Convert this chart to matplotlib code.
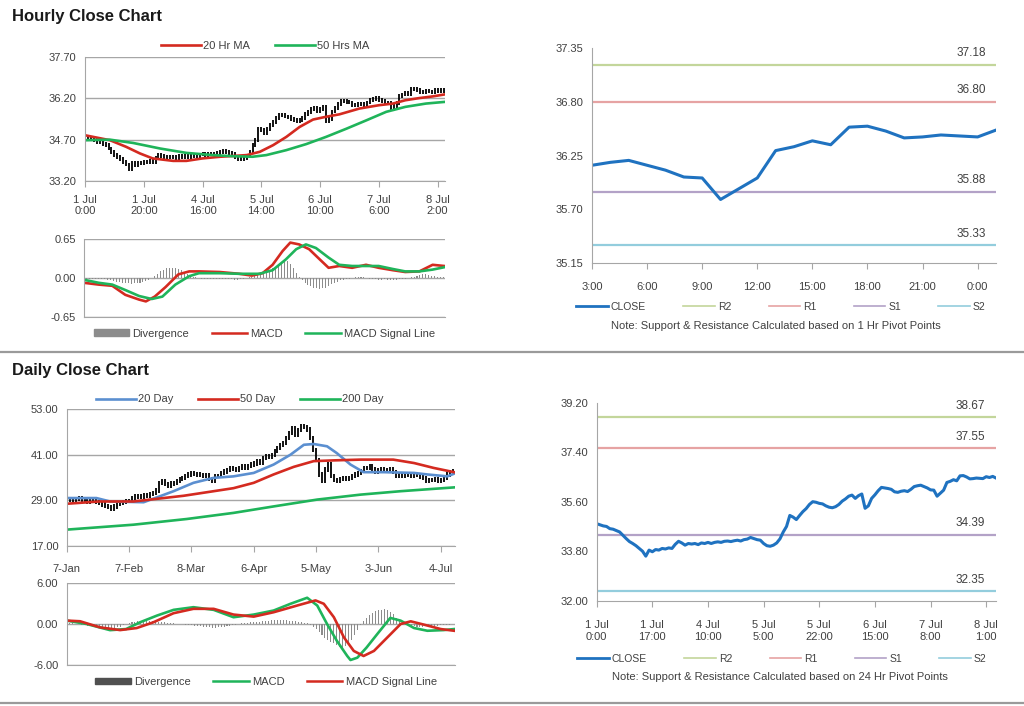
import numpy as np
import matplotlib
matplotlib.use('Agg')
import matplotlib.pyplot as plt
from matplotlib.lines import Line2D
from matplotlib.patches import Patch

plt.rcParams['font.family'] = ['Liberation Sans', 'DejaVu Sans']

# ---- hourly data (trading hours from 1 Jul 0:00) ----
hourly_close = [
    34.80, 34.76, 34.72, 34.70, 34.62, 34.60, 34.55, 34.50, 34.38, 34.26,
    34.15, 34.08, 34.00, 33.90, 33.80, 33.62, 33.84, 33.78, 33.86, 33.84,
    33.90, 33.88, 33.92, 33.90, 34.05, 34.16, 34.10, 34.02, 34.08, 34.06,
    34.08, 34.04, 34.10, 34.08, 34.12, 34.08, 34.12, 34.14, 34.12, 34.16,
    34.17, 34.15, 34.18, 34.20, 34.17, 34.22, 34.24, 34.30, 34.26, 34.22,
    34.20, 34.08, 34.00, 33.98, 34.02, 34.10, 34.25, 34.50, 34.70, 35.10,
    35.04, 34.95, 35.10, 35.24, 35.35, 35.50, 35.60, 35.58, 35.54, 35.52,
    35.45, 35.40, 35.38, 35.42, 35.50, 35.62, 35.70, 35.80, 35.84, 35.72,
    35.82, 35.88, 35.36, 35.45, 35.72, 35.85, 36.00, 36.12, 36.10, 36.08,
    36.05, 35.96, 35.94, 35.98, 36.00, 35.97, 36.05, 36.15, 36.18, 36.20,
    36.15, 36.10, 36.03, 36.02, 35.80, 35.91, 36.02, 36.30, 36.34, 36.40,
    36.36, 36.54, 36.55, 36.50, 36.43, 36.44, 36.46, 36.45, 36.44, 36.51,
    36.48, 36.52, 36.46,
]
hourly_ticks = [0, 20, 40, 60, 80, 100, 120]
hourly_tick_labels = ['1 Jul\n0:00', '1 Jul\n20:00', '4 Jul\n16:00', '5 Jul\n14:00',
                      '6 Jul\n10:00', '7 Jul\n6:00', '8 Jul\n2:00']

ma20h_idx = [0, 8.5, 14, 18.7, 23, 30, 34.5, 40, 46, 55, 59.5, 64, 68.5, 73, 77.6,
             82, 86.6, 93.4, 100, 104.8, 109, 113.8, 118.3, 122.3]
ma20h_val = [34.86, 34.68, 34.44, 34.20, 34.02, 33.93, 33.93, 34.02, 34.08, 34.14, 34.26,
             34.50, 34.80, 35.16, 35.43, 35.53, 35.62, 35.83, 35.95, 36.01, 36.13, 36.21,
             36.27, 36.34]
ma50h_idx = [0, 8.5, 16.4, 25.5, 34.5, 43.6, 50.4, 57, 61.7, 68.5, 75.3, 82, 89, 95.7,
             102.5, 109, 116, 122.3]
ma50h_val = [34.68, 34.70, 34.58, 34.38, 34.22, 34.14, 34.10, 34.08, 34.14, 34.32, 34.54,
             34.80, 35.10, 35.40, 35.71, 35.89, 36.01, 36.07]

macdh_idx = [0, 5, 9.6, 14, 18.7, 21, 24, 27.7, 32, 35.7, 39, 46, 52.7, 57, 60.6, 64,
             67.4, 70, 73, 76.4, 80, 83, 86.6, 91, 95.7, 100, 104.8, 109, 113.8, 118.3, 122.3]
macdh_val = [-0.08, -0.11, -0.13, -0.28, -0.36, -0.39, -0.31, -0.15, 0.06, 0.11, 0.11,
             0.10, 0.07, 0.04, 0.08, 0.22, 0.45, 0.59, 0.56, 0.48, 0.31, 0.17, 0.20, 0.17,
             0.22, 0.17, 0.13, 0.10, 0.11, 0.22, 0.20]
sigh_idx = [0, 5, 9.6, 14, 18.7, 23, 26.6, 31, 35.7, 39, 46, 52.7, 59.5, 64, 68.5, 72,
            75.3, 78.7, 83, 86.6, 91, 95.7, 100, 104.8, 109, 113.8, 118.3, 122.3]
sigh_val = [-0.03, -0.08, -0.11, -0.20, -0.30, -0.35, -0.31, -0.11, 0.03, 0.08, 0.08,
            0.07, 0.07, 0.13, 0.31, 0.48, 0.56, 0.50, 0.34, 0.22, 0.20, 0.20, 0.20, 0.15,
            0.11, 0.11, 0.14, 0.18]
divh = [
    -0.03, -0.02, -0.02, -0.01, -0.02, -0.02, -0.01, -0.02, -0.03, -0.04,
    -0.05, -0.06, -0.07, -0.08, -0.09, -0.09, -0.10, -0.09, -0.09, -0.08,
    -0.07, -0.05, -0.03, 0.00, 0.03, 0.07, 0.11, 0.14, 0.16, 0.17,
    0.17, 0.16, 0.15, 0.13, 0.10, 0.07, 0.04, 0.02, 0.01, 0.00,
    -0.01, -0.02, -0.02, -0.02, -0.01, -0.02, -0.02, -0.01, -0.01, -0.02,
    -0.02, -0.03, -0.03, -0.02, -0.01, 0.00, 0.01, 0.02, 0.03, 0.05,
    0.07, 0.09, 0.11, 0.13, 0.16, 0.19, 0.22, 0.25, 0.27, 0.28,
    0.24, 0.17, 0.09, 0.02, -0.04, -0.08, -0.11, -0.14, -0.16, -0.17,
    -0.18, -0.17, -0.16, -0.13, -0.10, -0.08, -0.06, -0.04, -0.03, -0.02,
    -0.01, 0.00, 0.01, 0.01, 0.02, 0.01, 0.00, -0.01, -0.02, -0.02,
    -0.03, -0.03, -0.02, -0.03, -0.04, -0.03, -0.03, -0.02, -0.02, -0.01,
    0.00, 0.01, 0.02, 0.03, 0.05, 0.06, 0.06, 0.05, 0.04, 0.03,
    0.02, 0.02, 0.01,
]

# pivot levels
level_names = ['R2', 'R1', 'S1', 'S2']
level_colors = ['#c3d69b', '#e6a3a3', '#b3a2c7', '#93cddd']
levels_1h = [37.18, 36.80, 35.88, 35.33]
levels_24h = [38.67, 37.55, 34.39, 32.35]
last_day_start = 97
last_day_labels = ['3:00', '6:00', '9:00', '12:00', '15:00', '18:00', '21:00', '0:00']
week_ticks = [0, 17, 34, 51, 68, 85, 102, 119]
week_labels = ['1 Jul\n0:00', '1 Jul\n17:00', '4 Jul\n10:00', '5 Jul\n5:00',
               '5 Jul\n22:00', '6 Jul\n15:00', '7 Jul\n8:00', '8 Jul\n1:00']

# ---- daily data (weekdays from 7 Jan) ----
daily_close = [
    29.2, 29.0, 28.8, 29.3, 29.5, 29.1, 28.9, 28.7, 29.0, 28.8,
    28.5, 28.2, 27.9, 27.6, 27.2, 26.8, 27.4, 28.1, 28.3, 28.6,
    28.8, 28.9, 29.6, 30.1, 29.9, 30.0, 30.3, 30.2, 30.6, 30.9,
    31.6, 33.6, 34.0, 33.2, 32.9, 33.4, 33.6, 34.1, 34.6, 34.9,
    35.4, 35.8, 36.2, 36.0, 35.8, 35.6, 35.3, 35.6, 34.5, 34.0,
    35.3, 35.5, 36.1, 36.6, 37.0, 37.5, 37.3, 37.1, 37.4, 37.9,
    37.6, 38.0, 38.4, 38.7, 39.2, 38.9, 40.1, 40.7, 40.3, 41.0,
    42.0, 42.7, 43.5, 44.1, 45.4, 46.8, 48.0, 46.3, 47.5, 48.6,
    48.3, 47.6, 45.4, 42.3, 39.6, 35.8, 34.0, 37.1, 38.4, 35.3,
    34.4, 34.0, 34.6, 34.9, 34.5, 34.9, 35.3, 35.8, 36.2, 36.8,
    37.5, 37.4, 37.9, 37.2, 36.6, 36.9, 37.1, 36.8, 37.0, 37.1,
    36.4, 35.3, 35.6, 35.5, 35.8, 35.6, 35.5, 35.8, 35.6, 35.2,
    34.9, 34.0, 34.3, 34.4, 34.6, 34.2, 34.4, 34.9, 35.8, 36.3,
    36.6,
]
daily_ticks = [0, 21, 42, 63, 84, 105, 126]
daily_tick_labels = ['7-Jan', '7-Feb', '8-Mar', '6-Apr', '5-May', '3-Jun', '4-Jul']

ma20d_idx = [0, 10, 14.6, 25.9, 31.5, 36, 42.7, 49.5, 56.2, 63, 69.7, 75.4, 79.9, 83.2,
             87.7, 91, 95.6, 100, 106.9, 117, 121.5, 128.2, 130.5]
ma20d_val = [29.6, 29.6, 28.7, 28.5, 30.1, 31.4, 33.6, 34.9, 35.3, 36.2, 38.4, 41.0, 43.6,
             43.8, 43.2, 41.4, 38.4, 36.4, 36.4, 36.2, 35.8, 35.3, 36.0]
ma50d_idx = [0, 11, 22.5, 30.4, 39.4, 49.5, 56.2, 63, 69.7, 76.5, 83.2, 90, 99, 110, 117,
             123.7, 130.5]
ma50d_val = [28.1, 28.7, 28.7, 29.4, 30.2, 31.4, 32.2, 33.6, 35.8, 37.8, 39.3, 39.5, 39.7,
             39.7, 38.8, 37.5, 36.4]
ma200d_idx = [0, 22.5, 40.5, 56.2, 69.7, 84.4, 99, 112.5, 130.5]
ma200d_val = [21.3, 22.6, 24.1, 25.7, 27.4, 29.2, 30.5, 31.4, 32.4]

macdd_idx = [0, 6.7, 14.6, 20, 24.7, 30.4, 36, 42.7, 49.5, 56.2, 63, 69.7, 75.4, 81,
             84.4, 87.7, 91, 94.5, 95.6, 97.9, 101, 104.6, 109, 112.5, 117, 121.5, 127, 130.5]
macdd_val = [0.5, 0.0, -0.9, -0.74, 0.25, 1.23, 2.07, 2.46, 2.07, 0.99, 1.38, 1.97, 2.96,
             3.84, 2.7, 0.0, -2.46, -4.68, -5.27, -4.93, -3.45, -1.48, 0.89, 0.49, -0.59,
             -0.99, -0.89, -0.74]
sigd_idx = [0, 4.5, 11.2, 18, 23.6, 29.2, 36, 42.7, 49.5, 56.2, 63, 69.7, 77.6, 83.8,
            86.6, 90, 93.4, 96.7, 100, 103.5, 108, 112.5, 115.9, 120.4, 126, 130.5]
sigd_val = [0.5, 0.4, -0.49, -0.89, -0.59, 0.25, 1.58, 2.22, 2.22, 1.38, 1.08, 1.72, 2.7,
            3.45, 2.96, 0.99, -1.97, -3.94, -4.68, -3.94, -1.97, 0.0, 0.39, -0.1, -0.74, -0.99]
divd = [
    0.1, 0.1, 0.1, 0.05, 0.0, -0.1, -0.2, -0.25, -0.3, -0.3,
    -0.35, -0.4, -0.45, -0.5, -0.55, -0.6, -0.6, -0.5, -0.4, -0.2,
    -0.05, 0.1, 0.25, 0.35, 0.45, 0.5, 0.55, 0.55, 0.5, 0.45,
    0.4, 0.35, 0.3, 0.25, 0.2, 0.15, 0.1, 0.05, 0.0, -0.05,
    -0.1, -0.15, -0.2, -0.25, -0.3, -0.35, -0.4, -0.45, -0.5, -0.55,
    -0.55, -0.5, -0.45, -0.4, -0.35, -0.3, -0.2, -0.1, 0.0, 0.1,
    0.15, 0.2, 0.25, 0.3, 0.3, 0.35, 0.4, 0.45, 0.5, 0.55,
    0.55, 0.6, 0.6, 0.55, 0.55, 0.5, 0.45, 0.4, 0.35, 0.3,
    0.2, 0.1, -0.2, -0.5, -0.8, -1.2, -1.6, -2.0, -2.3, -2.6,
    -2.8, -3.0, -3.3, -3.5, -3.2, -2.9, -2.3, -1.6, -0.9, -0.2,
    0.4, 0.9, 1.3, 1.6, 1.9, 2.0, 2.1, 2.2, 2.1, 1.8,
    1.4, 0.9, 0.5, 0.1, -0.1, -0.2, -0.3, -0.35, -0.4, -0.4,
    -0.4, -0.35, -0.35, -0.3, -0.3, -0.25, -0.2, -0.2, -0.15, -0.1,
    0.05,
]

RED = '#d42a20'
GREEN = '#1fb45a'
GRID = '#a6a6a6'
TXT = '#404040'


def px(l, t, r, b):
    W, H = 1024, 706
    return [l / W, 1 - b / H, (r - l) / W, (b - t) / H]


def style(ax, grid=True):
    for s in ['top', 'right']:
        ax.spines[s].set_visible(False)
    ax.spines['left'].set_color(GRID)
    ax.spines['bottom'].set_color(GRID)
    ax.tick_params(axis='y', length=0, labelsize=8, colors=TXT, pad=6)
    ax.tick_params(axis='x', length=4, color=GRID, labelsize=8, labelcolor=TXT, pad=6)
    if grid:
        ax.yaxis.grid(True, color=GRID, lw=1)
    ax.set_axisbelow(True)


def bars(ax, close, wick):
    # bar from previous close to this close, with a short wick each side
    c = np.array(close)
    prev = np.r_[c[0], c[:-1]]
    idx = np.arange(len(c))
    ax.vlines(idx, np.minimum(prev, c) - wick, np.maximum(prev, c) + wick,
              color='black', lw=1.3)


fig = plt.figure(figsize=(10.24, 7.06), dpi=100)

fig.text(12 / 1024, 1 - 16 / 706, 'Hourly Close Chart', fontsize=12, fontweight='bold',
         va='center', color='#1a1a1a')
fig.text(12 / 1024, 1 - 370 / 706, 'Daily Close Chart', fontsize=12, fontweight='bold',
         va='center', color='#1a1a1a')
fig.add_artist(Line2D([0, 1], [1 - 352 / 706] * 2, color='#9a9a9a', lw=1.6))
fig.add_artist(Line2D([0, 1], [1 - 703 / 706] * 2, color='#9a9a9a', lw=1.6))

# ---- hourly price ----
ax = fig.add_axes(px(85, 57, 445, 181))
style(ax)
bars(ax, hourly_close, 0.07)
ax.plot(ma20h_idx, ma20h_val, color=RED, lw=1.9, label='20 Hr MA')
ax.plot(ma50h_idx, ma50h_val, color=GREEN, lw=1.9, label='50 Hrs MA')
ax.set_ylim(33.2, 37.7)
ax.set_yticks([33.2, 34.7, 36.2, 37.7])
ax.set_yticklabels(['%.2f' % v for v in [33.2, 34.7, 36.2, 37.7]])
ax.set_xlim(0, 122.5)
ax.set_xticks(hourly_ticks)
ax.set_xticklabels(hourly_tick_labels)
ax.legend(loc='lower center', bbox_to_anchor=(0.5, 0.97), ncol=2, frameon=False,
          fontsize=8, handlelength=3.6, columnspacing=2.2, handletextpad=0.2,
          labelcolor=TXT)

# ---- hourly MACD ----
ax = fig.add_axes(px(84, 239, 445, 317))
style(ax)
ax.bar(np.arange(len(divh)), divh, width=0.35, color='#8c8c8c')
ax.plot(macdh_idx, macdh_val, color=RED, lw=1.9)
ax.plot(sigh_idx, sigh_val, color=GREEN, lw=1.9)
ax.set_ylim(-0.65, 0.65)
ax.set_yticks([-0.65, 0, 0.65])
ax.set_yticklabels(['-0.65', '0.00', '0.65'])
ax.set_xlim(0, 122.5)
ax.set_xticks([])
h = [Patch(color='#8c8c8c'), Line2D([], [], color=RED, lw=1.8),
     Line2D([], [], color=GREEN, lw=1.8)]
ax.legend(h, ['Divergence', 'MACD', 'MACD Signal Line'], loc='upper center',
          bbox_to_anchor=(0.5, -0.02), ncol=3, frameon=False, fontsize=8,
          handlelength=3.2, handleheight=0.5, columnspacing=2.0, handletextpad=0.3,
          labelcolor=TXT)

# ---- 1 hr pivot chart ----
ax = fig.add_axes(px(592, 48, 996, 263))
style(ax, grid=False)
day = hourly_close[last_day_start:last_day_start + 23]
for name, lv, col in zip(level_names, levels_1h, level_colors):
    ax.axhline(lv, color=col, lw=1.6)
    ax.annotate('%.2f' % lv, xy=(0.975, lv), xycoords=ax.get_yaxis_transform(),
                xytext=(0, 4), textcoords='offset points', ha='right', va='bottom',
                fontsize=8.5, color=TXT)
ax.plot(np.arange(len(day)), day, color='#1f72c0', lw=2.2)
ax.set_ylim(35.15, 37.35)
ax.set_yticks([35.15, 35.70, 36.25, 36.80, 37.35])
ax.set_yticklabels(['35.15', '35.70', '36.25', '36.80', '37.35'])
ax.set_xlim(0, 22)
ax.set_xticks(np.arange(0, 22, 3))
ax.set_xticklabels(last_day_labels)
ax.tick_params(axis='x', pad=10)
h = [Line2D([], [], color='#1f72c0', lw=2)] + [Line2D([], [], color=c, lw=1.2) for c in level_colors]
fig.legend(h, ['CLOSE'] + level_names, loc='center', bbox_to_anchor=(781 / 1024, 1 - 307 / 706),
           ncol=5, frameon=False, fontsize=7.5, handlelength=3.0, columnspacing=3.6,
           handletextpad=0.3, labelcolor=TXT)
fig.text(776 / 1024, 1 - 326 / 706,
         'Note: Support & Resistance Calculated based on 1 Hr Pivot Points',
         fontsize=8, ha='center', va='center', color=TXT)

# ---- daily price ----
ax = fig.add_axes(px(66.7, 409, 455, 546))
style(ax)
bars(ax, daily_close, 0.55)
ax.plot(ma20d_idx, ma20d_val, color='#5b8fd0', lw=1.9, label='20 Day')
ax.plot(ma50d_idx, ma50d_val, color=RED, lw=1.9, label='50 Day')
ax.plot(ma200d_idx, ma200d_val, color=GREEN, lw=1.9, label='200 Day')
ax.set_ylim(17, 53)
ax.set_yticks([17, 29, 41, 53])
ax.set_yticklabels(['17.00', '29.00', '41.00', '53.00'])
ax.set_xlim(0, 130.8)
ax.set_xticks(daily_ticks)
ax.set_xticklabels(daily_tick_labels)
ax.tick_params(axis='x', pad=9)
ax.legend(loc='lower center', bbox_to_anchor=(0.446, 0.96), ncol=3, frameon=False,
          fontsize=8, handlelength=3.6, columnspacing=2.2, handletextpad=0.2,
          labelcolor=TXT)

# ---- daily MACD ----
ax = fig.add_axes(px(66.7, 583, 455, 665))
style(ax)
ax.bar(np.arange(len(divd)), divd, width=0.35, color='#8c8c8c')
ax.plot(macdd_idx, macdd_val, color=GREEN, lw=1.9)
ax.plot(sigd_idx, sigd_val, color=RED, lw=1.9)
ax.set_ylim(-6, 6)
ax.set_yticks([-6, 0, 6])
ax.set_yticklabels(['-6.00', '0.00', '6.00'])
ax.set_xlim(0, 130.8)
ax.set_xticks([])
h = [Patch(color='#505050'), Line2D([], [], color=GREEN, lw=1.8),
     Line2D([], [], color=RED, lw=1.8)]
ax.legend(h, ['Divergence', 'MACD', 'MACD Signal Line'], loc='upper center',
          bbox_to_anchor=(0.513, -0.02), ncol=3, frameon=False, fontsize=8,
          handlelength=3.2, handleheight=0.5, columnspacing=2.0, handletextpad=0.3,
          labelcolor=TXT)

# ---- 24 hr pivot chart ----
ax = fig.add_axes(px(596.7, 402.7, 996, 600.7))
style(ax, grid=False)
for name, lv, col in zip(level_names, levels_24h, level_colors):
    ax.axhline(lv, color=col, lw=1.6)
    ax.annotate('%.2f' % lv, xy=(0.972, lv), xycoords=ax.get_yaxis_transform(),
                xytext=(0, 4), textcoords='offset points', ha='right', va='bottom',
                fontsize=8.5, color=TXT)
ax.plot(np.arange(len(hourly_close)), hourly_close, color='#1f72c0', lw=2.2)
ax.set_ylim(32.0, 39.2)
ax.set_yticks([32.0, 33.8, 35.6, 37.4, 39.2])
ax.set_yticklabels(['32.00', '33.80', '35.60', '37.40', '39.20'])
ax.set_xlim(0, 122)
ax.set_xticks(week_ticks)
ax.set_xticklabels(week_labels)
ax.tick_params(axis='x', pad=10)
h = [Line2D([], [], color='#1f72c0', lw=2)] + [Line2D([], [], color=c, lw=1.2) for c in level_colors]
fig.legend(h, ['CLOSE'] + level_names, loc='center', bbox_to_anchor=(782 / 1024, 1 - 659 / 706),
           ncol=5, frameon=False, fontsize=7.5, handlelength=3.0, columnspacing=3.6,
           handletextpad=0.3, labelcolor=TXT)
fig.text(780 / 1024, 1 - 677 / 706,
         'Note: Support & Resistance Calculated based on 24 Hr Pivot Points',
         fontsize=8, ha='center', va='center', color=TXT)

fig.savefig('out.png', dpi=100)
